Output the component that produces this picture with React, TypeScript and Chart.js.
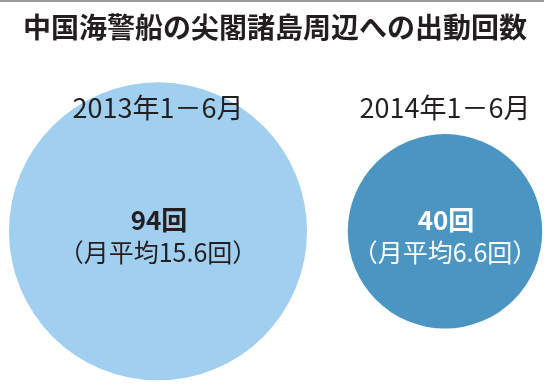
import React, { useEffect, useRef } from "react";
import { Chart, registerables } from "chart.js";

Chart.register(...registerables);

const TITLE = "中国海警船の尖閣諸島周辺への出動回数";
const periods = ["2013年1－6月", "2014年1－6月"];
const counts = [94, 40];
const monthlyAvg = [15.6, 6.6];
const bubbleColors = ["#a0cfef", "#4a95c2"];
const textColors = ["#231f20", "#ffffff"];

const FONT = '"Noto Sans CJK JP", "Noto Sans", sans-serif';
const R_PER_SQRT = 15.37; // radius ∝ sqrt(count), so area ∝ count

const topRulePlugin = {
  id: "topRule",
  beforeDraw(chart: any) {
    const { ctx, width } = chart;
    ctx.save();
    ctx.fillStyle = "#ffffff";
    ctx.fillRect(0, 0, width, chart.height);
    ctx.fillStyle = "#9a9a9a";
    ctx.fillRect(0, 0, width - 6, 2);
    ctx.restore();
  },
};

const bubbleLabelPlugin = {
  id: "bubbleLabels",
  afterDatasetsDraw(chart: any) {
    const { ctx } = chart;
    const meta = chart.getDatasetMeta(0);
    ctx.save();
    ctx.textAlign = "center";
    ctx.textBaseline = "middle";
    meta.data.forEach((el: any, i: number) => {
      const { x, y } = el.getProps(["x", "y"], true);
      ctx.fillStyle = textColors[i];
      ctx.font = `bold 26px ${FONT}`;
      ctx.fillText(`${counts[i]}回`, x + 1, y - 11);
      ctx.font = `normal 25px ${FONT}`;
      ctx.fillText(`（月平均${monthlyAvg[i]}回）`, x, y + 21);
    });
    ctx.restore();
  },
};

export default function App() {
  const ref = useRef<HTMLCanvasElement | null>(null);

  useEffect(() => {
    document.body.style.margin = "0";
    const canvas = ref.current;
    if (!canvas) return;
    const chart = new Chart(canvas, {
      type: "bubble",
      data: {
        datasets: [
          {
            data: counts.map((c, i) => ({ x: i, y: 0, r: R_PER_SQRT * Math.sqrt(c) })),
            backgroundColor: bubbleColors,
            hoverBackgroundColor: bubbleColors,
            borderWidth: 0,
            hoverBorderWidth: 0,
            clip: false as any,
          },
        ],
      },
      options: {
        responsive: false,
        animation: false,
        devicePixelRatio: 1,
        events: [],
        layout: { autoPadding: false, padding: { left: 0, right: 0, top: 0, bottom: 47 } },
        plugins: {
          legend: { display: false },
          tooltip: { enabled: false },
          title: {
            display: true,
            text: TITLE,
            color: "#231f20",
            font: { family: FONT, size: 28, weight: "bold" },
            padding: { top: 11, bottom: 46.6 },
          },
        },
        scales: {
          x: {
            type: "linear",
            position: "top",
            min: -0.5505,
            max: 1.3659,
            afterBuildTicks: (scale: any) => {
              scale.ticks = periods.map((_, i) => ({ value: i }));
            },
            grid: { display: false, drawTicks: false },
            border: { display: false },
            ticks: {
              z: 1,
              autoSkip: false,
              maxRotation: 0,
              minRotation: 0,
              padding: 0,
              color: "#231f20",
              font: { family: FONT, size: 27, weight: "normal" },
              callback: (v: any) => periods[v as number] ?? "",
            },
          },
          y: {
            type: "linear",
            display: false,
            min: -1,
            max: 1,
          },
        },
      },
      plugins: [topRulePlugin, bubbleLabelPlugin],
    });
    return () => chart.destroy();
  }, []);

  return (
    <div style={{ width: 550, height: 386 }}>
      <canvas ref={ref} width={550} height={386} />
    </div>
  );
}
